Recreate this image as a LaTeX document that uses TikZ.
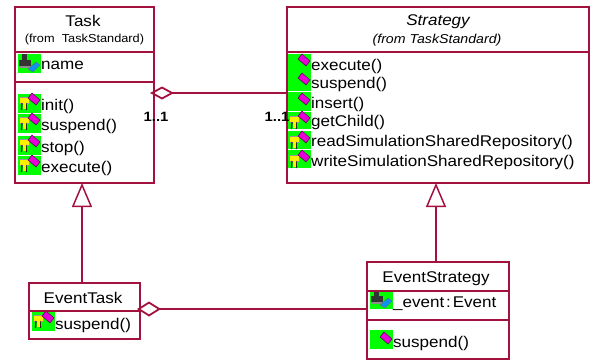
\documentclass[tikz,border=0pt]{standalone}
\usepackage{fontspec}
\setmainfont[FakeStretch=1.1]{Liberation Sans}
\usetikzlibrary{arrows.meta}
\definecolor{umlred}{HTML}{A3123F}
\definecolor{icgreen}{HTML}{00FF00}
\definecolor{icpink}{HTML}{E800D8}
\definecolor{icyellow}{HTML}{FFF000}
\definecolor{icblue}{HTML}{1090F0}
\tikzset{
  x=1pt,y=-1pt,
  box/.style={draw=umlred,line width=2pt,minimum width=#1,inner sep=0pt,anchor=north west,fill=none},
  divider/.style={draw=umlred,line width=1.4pt},
  link/.style={draw=umlred,line width=1.5pt},
  inh/.style={link,-{Triangle[open,length=24pt,width=20pt,line width=1.5pt]}},
  agg/.style={link,-{Diamond[open,length=24pt,width=#1,line width=1.8pt]}},
  title/.style={font=\fontsize{15.5}{15.5}\selectfont,inner sep=0pt},
  from/.style={font=\fontsize{11.6}{11.6}\selectfont,inner sep=0pt},
  member/.style={font=\fontsize{15.5}{15.5}\selectfont,inner sep=0pt,anchor=west},
  mult/.style={font=\fontsize{13.5}{13.5}\selectfont\bfseries,inner sep=0pt},
  green/.style={fill=icgreen,draw=none},
  flag/.pic={\fill[icpink,draw=black!60!icpink,line width=.5pt] (10,4)--(14,-1)--(22,6)--(18,11)--cycle;},
  key/.pic={\fill[icyellow,draw=black!40,line width=.3pt] (1,3) rectangle (11,9);
    \draw[black!85,line width=1.3pt] (4,9)--(3.5,16) (8,9)--(8.5,16);
    \fill[icyellow] (4.5,9) rectangle (7.5,15);},
  attr/.pic={\fill[black!80] (1,6) rectangle (13,12); \fill[black!80] (4,0) rectangle (9,6);
    \fill[black!45] (2,12) rectangle (13,14);
    \fill[icblue,draw=black!60,line width=.3pt] (10,15)--(18,8)--(22,11)--(15,18)--cycle;},
}
\newcommand{\gbox}[4]{\fill[green] (#1,#2) rectangle (#3,#4);}
\begin{document}
\begin{tikzpicture}
\useasboundingbox (0,0) rectangle (591,360);
% green backgrounds and icons
\gbox{18}{54}{41}{73}
\pic at (18,54) {attr};
\foreach \a/\b in {94/113,114/133,136/155,156/175}{
  \gbox{18}{\a}{41}{\b}
  \pic at (18,\a) {key}; \pic at (18,\a) {flag};
}
\gbox{288}{54}{311}{91}
\gbox{288}{92}{311}{111}
\gbox{288}{112}{311}{129}
\gbox{288}{131}{311}{149}
\gbox{288}{150}{311}{168}
\pic at (288,55) {flag}; \pic at (288,74) {flag}; \pic at (288,94) {flag};
\pic at (288,113) {key}; \pic at (288,112) {flag};
\pic at (288,133) {key}; \pic at (288,132) {flag};
\pic at (288,152) {key}; \pic at (288,151) {flag};
\gbox{370}{290}{393}{309}
\pic at (370,290) {attr};
\gbox{370}{330}{393}{349}
\pic at (370,333) {flag};
\gbox{32}{312}{55}{331}
\pic at (32,312) {key}; \pic at (32,312) {flag};
% boxes
\node[box=139pt,minimum height=176pt] (task) at (14,6) {};
\node[box=302pt,minimum height=176pt] (strategy) at (286,6) {};
\node[box=111pt,minimum height=56pt] (eventtask) at (28,282) {};
\node[box=142pt,minimum height=97pt] (eventstrategy) at (366,261) {};
% dividers
\draw[divider] (14,52)--(153,52) (14,82)--(153,82);
\draw[divider] (286,52)--(588,52);
\draw[divider] (28,311)--(139,311);
\draw[divider] (366,291)--(508,291) (366,320)--(508,320);
% titles
\node[title] (t1) at (83,21) {Task};
\node[from] (t1f) at (84.5,39) {(from\ \ TaskStandard)};
\node[title,font=\fontsize{15.5}{15.5}\selectfont\itshape] (t2) at (438,22) {Strategy};
\node[from,font=\fontsize{12.9}{12.9}\selectfont\itshape] (t2f) at (437,40) {(from TaskStandard)};
\node[title] (t3) at (83,298) {EventTask};
\node[title] (t4) at (436,279) {EventStrategy};
% members
\node[member] (m1) at (41,65.5) {name};
\node[member] (m2) at (41,106.5) {init()};
\node[member] (m3) at (41,126.5) {suspend()};
\node[member] (m4) at (41,148.5) {stop()};
\node[member] (m5) at (41,168.5) {execute()};
\node[member] (s1) at (311,66.5) {execute()};
\node[member] (s2) at (311,84.5) {suspend()};
\node[member] (s3) at (311,104.5) {insert()};
\node[member] (s4) at (311,122.5) {getChild()};
\node[member] (s5) at (311,142.5) {readSimulationSharedRepository()};
\node[member] (s6) at (311,162.5) {writeSimulationSharedRepository()};
\node[member] (e1) at (55,325.5) {suspend()};
\node[member] (e2) at (393,303.5) {\_event\hspace{.12em}:\hspace{.12em}Event};
\node[member] (e3) at (393,343.5) {suspend()};
% connectors
\coordinate (tri1) at (82,183);
\coordinate (tri2) at (436,183);
\coordinate (dia1) at (150,93);
\coordinate (dia1s) at (286,93);
\coordinate (dia2) at (137,309);
\coordinate (dia2s) at (366,309);
\draw[inh] (82,282) -- (tri1);
\draw[inh] (436,261) -- (tri2);
\draw[agg=13pt] (dia1s) -- (dia1);
\draw[agg=15pt] (dia2s) -- (dia2);
\node[mult] (l1) at (156,116.5) {1..1};
\node[mult] (l2) at (277,116.5) {1..1};
\end{tikzpicture}
\end{document}
